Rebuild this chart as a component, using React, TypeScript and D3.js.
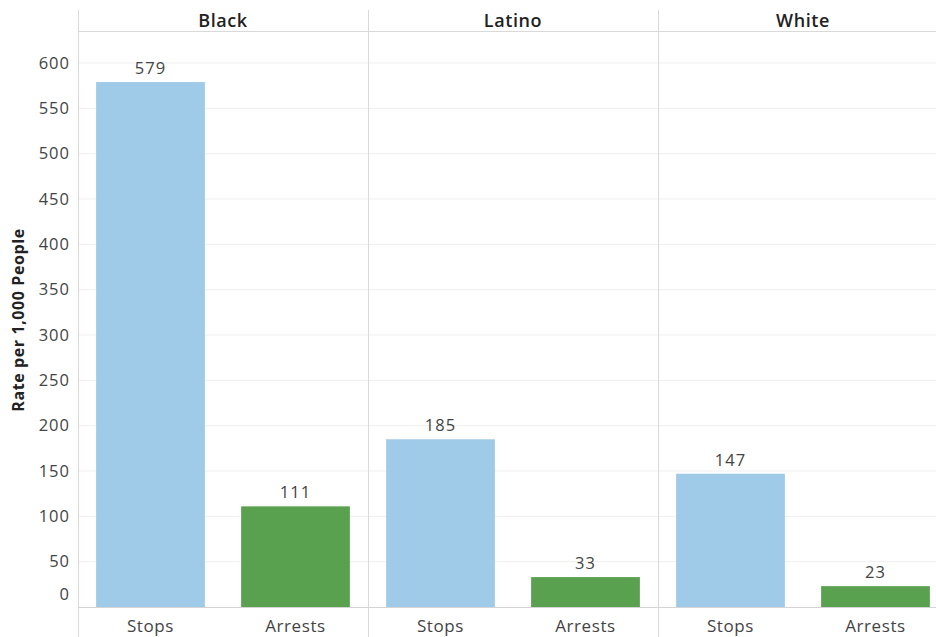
import React from "react";
import * as d3 from "d3";

const groups = ["Black", "Latino", "White"];
const measures = ["Stops", "Arrests"];
const stops = [579, 185, 147];
const arrests = [111, 33, 23];
const yTicks = [0, 50, 100, 150, 200, 250, 300, 350, 400, 450, 500, 550, 600];
const colors = ["#A0CBE8", "#59A14F"];

const W = 936;
const H = 637;
const left = 78;
const panelW = 290;
const headerTop = 10;
const headerLine = 31;
const baseY = 607;
const topY = 63;
const font = "'Open Sans', 'Noto Sans', sans-serif";

export default function App() {
  const y = d3.scaleLinear().domain([0, 600]).range([baseY, topY]);
  const x = d3
    .scaleBand<string>()
    .domain(measures)
    .range([0, panelW])
    .paddingInner(0.25)
    .paddingOuter(0.125);
  const values = [stops, arrests];

  return (
    <svg
      width={W}
      height={H}
      style={{ position: "absolute", left: 0, top: 0, background: "#fff" }}
      fontFamily={font}
    >
      {/* gridlines */}
      {yTicks.slice(1).map((t) => (
        <line key={t} x1={left} x2={W} y1={y(t)} y2={y(t)} stroke="#efefef" strokeWidth={1} />
      ))}
      {/* header rule and baseline */}
      <line x1={left} x2={W} y1={headerLine + 0.5} y2={headerLine + 0.5} stroke="#d9d9d9" />
      <line x1={left} x2={W} y1={baseY + 0.5} y2={baseY + 0.5} stroke="#d4d4d4" />
      {/* panel dividers */}
      {groups.map((g, i) => (
        <line
          key={g}
          x1={left + i * panelW + 0.5}
          x2={left + i * panelW + 0.5}
          y1={headerTop}
          y2={H}
          stroke="#d9d9d9"
        />
      ))}
      {/* y axis labels */}
      {yTicks.map((t) => (
        <text
          key={t}
          x={70}
          y={t === 0 ? y(t) - 13 : y(t)}
          dy="0.35em"
          textAnchor="end"
          fontSize={16.5}
          letterSpacing={1}
          fill="#444"
        >
          {t}
        </text>
      ))}
      <text
        transform={`translate(24,${(topY + baseY) / 2 - 15}) rotate(-90)`}
        textAnchor="middle"
        fontSize={16}
        fontWeight={700}
        letterSpacing={0.6}
        fill="#222"
      >
        Rate per 1,000 People
      </text>
      {groups.map((g, i) => {
        const x0 = left + i * panelW;
        return (
          <g key={g} transform={`translate(${x0},0)`}>
            <text
              x={panelW / 2}
              y={21}
              dy="0.35em"
              textAnchor="middle"
              fontSize={18}
              fontWeight={600}
              letterSpacing={0.6}
              fill="#222"
            >
              {g}
            </text>
            {measures.map((m, j) => {
              const v = values[j][i];
              const bx = x(m)!;
              return (
                <g key={m}>
                  <rect
                    x={bx}
                    y={y(v)}
                    width={x.bandwidth()}
                    height={baseY - y(v)}
                    fill={colors[j]}
                  />
                  <text
                    x={bx + x.bandwidth() / 2}
                    y={y(v) - 8}
                    textAnchor="middle"
                    fontSize={16.5}
                    letterSpacing={1}
                    fill="#444"
                  >
                    {v}
                  </text>
                  <text
                    x={bx + x.bandwidth() / 2}
                    y={626}
                    dy="0.35em"
                    textAnchor="middle"
                    fontSize={17}
                    letterSpacing={0.6}
                    fill="#444"
                  >
                    {m}
                  </text>
                </g>
              );
            })}
          </g>
        );
      })}
    </svg>
  );
}
